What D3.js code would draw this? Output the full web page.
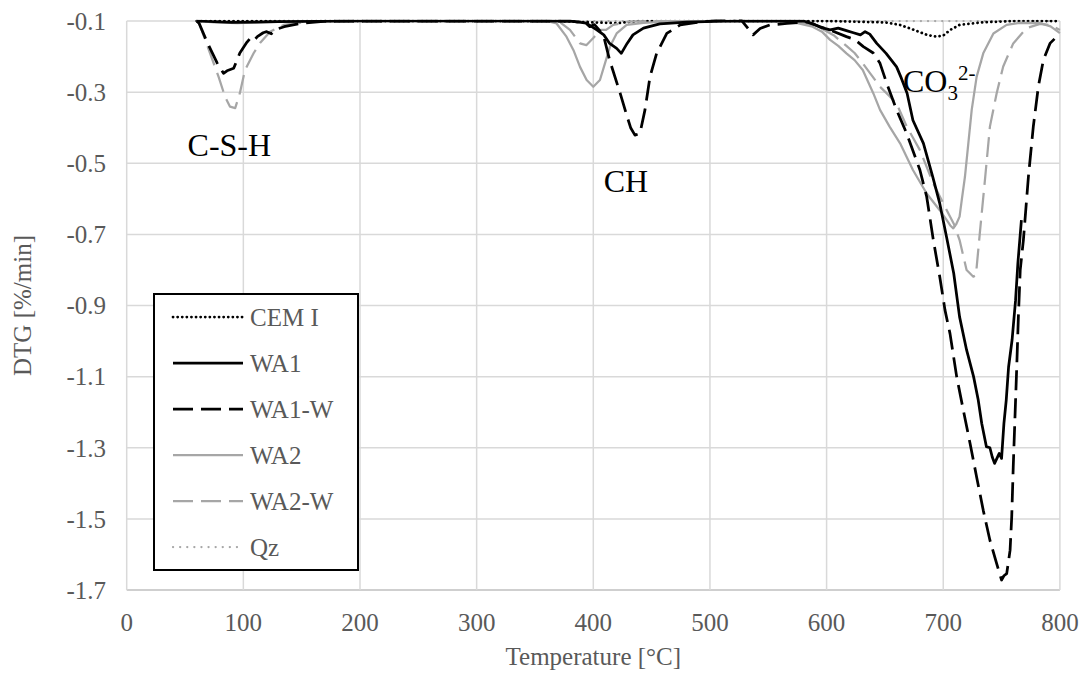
<!DOCTYPE html>
<html>
<head>
<meta charset="utf-8">
<script src="https://cdn.jsdelivr.net/npm/d3@7"></script>
<style>
  body { margin: 0; background: #fff; }
  #chart { width: 1081px; height: 675px; }
  text { font-family: "Liberation Serif", "Times New Roman", serif; }
</style>
</head>
<body>
<div id="chart"></div>
<script>
// DTG curves, [temperature °C, DTG %/min]
const cemI = [[60,-0.1],[200,-0.1],[370,-0.1],[400,-0.104],[420,-0.106],[440,-0.1],[600,-0.1],[650,-0.104],[663,-0.111],[675,-0.125],[686,-0.139],[694,-0.144],[700,-0.141],[706,-0.125],[714,-0.111],[732,-0.104],[760,-0.1],[800,-0.1]];
const wa1 = [[60,-0.1],[90,-0.104],[130,-0.102],[200,-0.1],[380,-0.1],[394,-0.106],[403,-0.125],[409,-0.139],[414,-0.163],[420,-0.177],[424,-0.191],[429,-0.163],[434,-0.139],[443,-0.12],[457,-0.108],[480,-0.103],[520,-0.1],[580,-0.1],[588,-0.107],[595,-0.118],[603,-0.125],[610,-0.12],[617,-0.127],[623,-0.133],[629,-0.139],[633,-0.13],[637,-0.137],[643,-0.163],[651,-0.191],[660,-0.229],[664,-0.26],[669,-0.303],[674,-0.379],[683,-0.444],[691,-0.538],[697,-0.613],[703,-0.71],[709,-0.81],[714,-0.932],[720,-1.025],[726,-1.1],[730,-1.166],[733,-1.232],[737,-1.297],[740,-1.3],[742,-1.326],[744,-1.344],[746,-1.33],[748,-1.316],[750,-1.33],[752,-1.232],[754,-1.166],[756,-1.073],[759,-0.997],[762,-0.885],[764,-0.78],[767,-0.66]];
const wa1W = [[60,-0.1],[62,-0.106],[69,-0.16],[77.5,-0.218],[83,-0.247],[86,-0.24],[91.7,-0.233],[97,-0.19],[103,-0.16],[106,-0.148],[109,-0.155],[112,-0.144],[117,-0.133],[120,-0.13],[124,-0.136],[127,-0.125],[135,-0.116],[149,-0.107],[172,-0.1],[380,-0.1],[394,-0.107],[397,-0.116],[401,-0.11],[405,-0.125],[409,-0.144],[414,-0.21],[423,-0.303],[429,-0.369],[432,-0.4],[435.7,-0.421],[440,-0.416],[444.3,-0.35],[448.6,-0.257],[454.3,-0.191],[463,-0.135],[474.5,-0.111],[486,-0.105],[500,-0.1],[525,-0.09],[534.5,-0.128],[537,-0.139],[543,-0.121],[551.5,-0.111],[566,-0.107],[583,-0.103],[594.5,-0.116],[605,-0.128],[617,-0.144],[624,-0.152],[631.5,-0.172],[640,-0.19],[645.8,-0.219],[651.5,-0.275],[660,-0.35],[668.6,-0.416],[680,-0.519],[685.8,-0.594],[691.5,-0.716],[697,-0.819],[701.5,-0.913],[705.8,-0.979],[711.5,-1.1],[717.2,-1.194],[723,-1.288],[728.6,-1.382],[734.3,-1.476],[740,-1.56],[745.8,-1.626],[750,-1.672],[752,-1.66],[754.4,-1.654],[757.3,-1.588],[758.7,-1.494],[760,-1.354],[761.5,-1.213],[763,-1.073],[764.4,-0.932],[766,-0.8],[768.7,-0.716],[773,-0.538],[777.2,-0.397],[781.5,-0.285],[785.8,-0.21],[791.5,-0.163],[800,-0.135]];
const wa2 = [[60,-0.1],[75,-0.104],[95,-0.106],[120,-0.103],[160,-0.1],[360,-0.1],[368.5,-0.107],[377,-0.144],[383,-0.182],[388.6,-0.229],[394.3,-0.266],[400,-0.285],[405.7,-0.266],[410,-0.219],[414.3,-0.172],[420,-0.135],[428.6,-0.111],[443,-0.105],[470,-0.1],[560,-0.1],[575,-0.106],[588,-0.116],[596,-0.13],[603,-0.153],[610,-0.17],[617,-0.191],[624,-0.21],[631,-0.238],[640,-0.303],[645.8,-0.35],[654,-0.397],[663,-0.444],[674,-0.519],[685.8,-0.585],[697,-0.632],[703,-0.66],[706,-0.675],[708.6,-0.683],[711,-0.672],[714,-0.65],[716,-0.6],[718.6,-0.538],[721.5,-0.444],[724.4,-0.35],[728.6,-0.257],[734.3,-0.191],[743,-0.135],[754.3,-0.111],[765.8,-0.105],[783,-0.106],[792,-0.115],[800,-0.134]];
const wa2W = [[60,-0.1],[62,-0.106],[71.4,-0.19],[78.8,-0.257],[84.3,-0.313],[88.6,-0.341],[93,-0.345],[97,-0.303],[101.4,-0.238],[108.9,-0.19],[114.3,-0.162],[122.9,-0.13],[134.6,-0.111],[148.6,-0.105],[170,-0.1],[370,-0.1],[380,-0.125],[388.6,-0.163],[394,-0.168],[400,-0.148],[405.7,-0.125],[411,-0.125],[417,-0.111],[430,-0.102],[450,-0.1],[570,-0.1],[585,-0.11],[596,-0.122],[606,-0.14],[617,-0.17],[624,-0.19],[631,-0.219],[638,-0.25],[645.8,-0.285],[652,-0.305],[660,-0.332],[668.7,-0.397],[680,-0.463],[691.5,-0.557],[703,-0.632],[709,-0.67],[714,-0.716],[720,-0.8],[725.8,-0.819],[728,-0.815],[731.6,-0.688],[736,-0.538],[740,-0.397],[745.8,-0.303],[751.4,-0.228],[760,-0.163],[771.5,-0.12],[783,-0.108],[792,-0.112],[800,-0.125]];
const qz = [[60,-0.1],[300,-0.1],[600,-0.1],[800,-0.1]];

const seriesNames = ["CEM I", "WA1", "WA1-W", "WA2", "WA2-W", "Qz"];
const seriesData = [cemI, wa1, wa1W, wa2, wa2W, qz];
const xTicks = [0, 100, 200, 300, 400, 500, 600, 700, 800];
const yTicks = [-0.1, -0.3, -0.5, -0.7, -0.9, -1.1, -1.3, -1.5, -1.7];
const peakLabels = [{ t: 88, v: -0.48, text: "C-S-H" }, { t: 428, v: -0.581, text: "CH" }];

// line looks, same order as seriesNames
const styles = [
    { color: "#000", width: 2.75, dash: "0.1 4.5", cap: "round" },
    { color: "#000", width: 2.75, dash: null, cap: "butt" },
    { color: "#000", width: 2.75, dash: "20 8", cap: "butt" },
    { color: "#a6a6a6", width: 2.25, dash: null, cap: "butt" },
    { color: "#a6a6a6", width: 2.25, dash: "20 8", cap: "butt" },
    { color: "#a6a6a6", width: 2.25, dash: "0.1 7", cap: "round" }
];

const W = 1081, H = 675;
const svg = d3.select("#chart").append("svg")
    .attr("width", W)
    .attr("height", H);

const x = d3.scaleLinear().domain([0, 800]).range([126.7, 1059.9]);
const y = d3.scaleLinear().domain([-1.7, -0.1]).range([590, 21]);

// grid
svg.append("g")
    .selectAll("line")
    .data(yTicks)
    .enter().append("line")
    .attr("x1", x(0)).attr("x2", x(800))
    .attr("y1", d => y(d)).attr("y2", d => y(d))
    .attr("stroke", d => d === -1.7 ? "#bfbfbf" : "#d9d9d9")
    .attr("stroke-width", 1.5);

svg.append("g")
    .selectAll("line")
    .data(xTicks)
    .enter().append("line")
    .attr("x1", d => x(d)).attr("x2", d => x(d))
    .attr("y1", y(-0.1)).attr("y2", y(-1.7))
    .attr("stroke", "#d9d9d9")
    .attr("stroke-width", 1.5);

// tick labels
svg.append("g")
    .selectAll("text")
    .data(yTicks)
    .enter().append("text")
    .attr("x", 106)
    .attr("y", d => y(d))
    .attr("dy", "0.35em")
    .attr("text-anchor", "end")
    .attr("fill", "#595959")
    .style("font-size", "25px")
    .text(d => d3.format(".1f")(d).replace("−", "-"));

svg.append("g")
    .selectAll("text")
    .data(xTicks)
    .enter().append("text")
    .attr("x", d => x(d))
    .attr("y", 622)
    .attr("dy", "0.35em")
    .attr("text-anchor", "middle")
    .attr("fill", "#595959")
    .style("font-size", "25px")
    .text(d => d);

// axis titles
svg.append("text")
    .attr("x", (x(0) + x(800)) / 2)
    .attr("y", 665)
    .attr("text-anchor", "middle")
    .attr("fill", "#595959")
    .style("font-size", "25px")
    .text("Temperature [°C]");

svg.append("text")
    .attr("transform", `translate(31, ${(y(-0.1) + y(-1.7)) / 2}) rotate(-90)`)
    .attr("text-anchor", "middle")
    .attr("fill", "#595959")
    .style("font-size", "25px")
    .text("DTG [%/min]");

// curves, clipped to the plot area
svg.append("clipPath").attr("id", "plot-clip")
    .append("rect")
    .attr("x", x(0)).attr("y", y(-0.1) - 1.5)
    .attr("width", x(800) - x(0) + 2)
    .attr("height", y(-1.7) - y(-0.1) + 1.5);

const line = d3.line()
    .x(d => x(d[0]))
    .y(d => y(d[1]));

const order = [5, 0, 3, 4, 1, 2];
svg.append("g")
    .attr("clip-path", "url(#plot-clip)")
    .selectAll("path")
    .data(order)
    .enter().append("path")
    .attr("d", i => line(seriesData[i]))
    .attr("fill", "none")
    .attr("stroke", i => styles[i].color)
    .attr("stroke-width", i => styles[i].width)
    .attr("stroke-dasharray", i => styles[i].dash)
    .attr("stroke-linecap", i => styles[i].cap)
    .attr("stroke-linejoin", "round");

// peak annotations
svg.append("g")
    .selectAll("text")
    .data(peakLabels)
    .enter().append("text")
    .attr("x", d => x(d.t))
    .attr("y", d => y(d.v))
    .attr("text-anchor", "middle")
    .attr("fill", "#000")
    .style("font-size", "32px")
    .text(d => d.text);

const co3 = svg.append("text")
    .attr("x", 903)
    .attr("y", y(-0.3))
    .attr("fill", "#000")
    .style("font-size", "32px");
co3.append("tspan").text("CO");
co3.append("tspan").attr("dy", 8).style("font-size", "21px").text("3");
co3.append("tspan").attr("dy", -20).style("font-size", "21px").text("2-");

// legend
const legend = svg.append("g").attr("transform", "translate(154, 294)");
legend.append("rect")
    .attr("width", 204)
    .attr("height", 276)
    .attr("fill", "#fff")
    .attr("stroke", "#000")
    .attr("stroke-width", 2);

const item = legend.selectAll("g.item")
    .data(seriesNames)
    .enter().append("g")
    .attr("transform", (d, i) => `translate(0, ${23 + i * 46})`);

item.append("line")
    .attr("x1", 19).attr("x2", 89)
    .attr("stroke", (d, i) => styles[i].color)
    .attr("stroke-width", (d, i) => styles[i].width)
    .attr("stroke-dasharray", (d, i) => styles[i].dash)
    .attr("stroke-linecap", (d, i) => styles[i].cap);

item.append("text")
    .attr("x", 96)
    .attr("dy", "0.35em")
    .attr("fill", "#595959")
    .style("font-size", "25px")
    .text(d => d);
</script>
</body>
</html>
